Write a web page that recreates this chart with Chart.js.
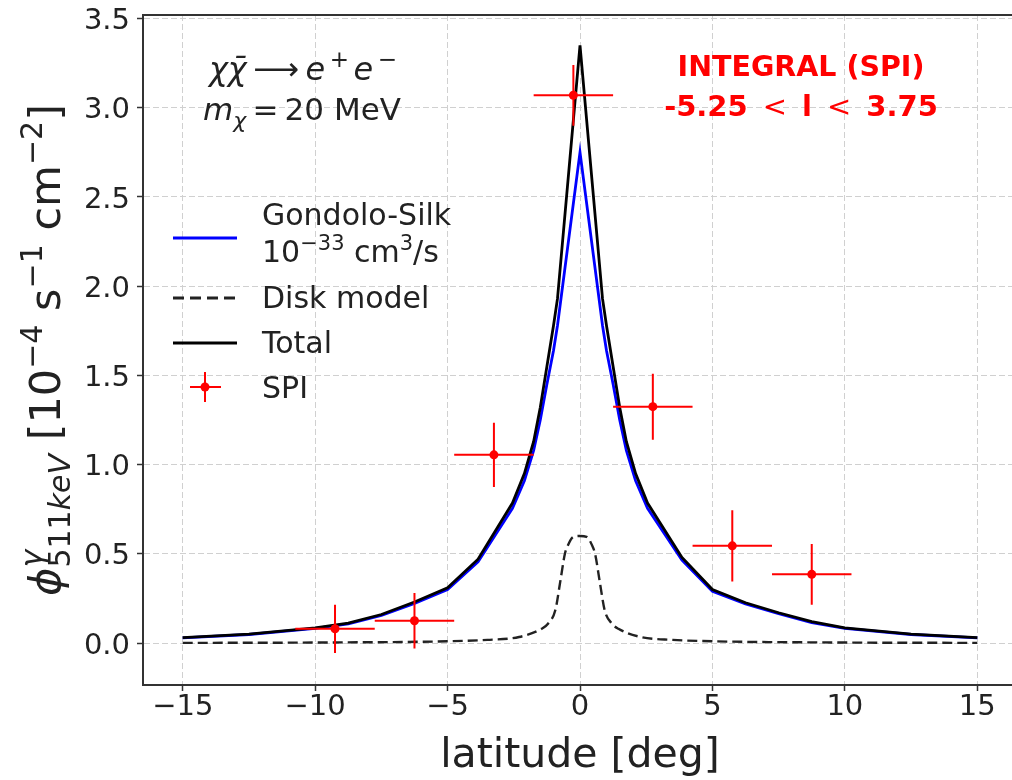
<!DOCTYPE html>
<html>
<head>
<meta charset="utf-8">
<script src="https://cdn.jsdelivr.net/npm/chart.js@4.4.0/dist/chart.umd.min.js"></script>
<style>
  html, body { margin: 0; padding: 0; background: #fff; overflow: hidden; }
  #wrap { width: 1030px; height: 780px; }
</style>
</head>
<body>
<div id="wrap"><canvas id="chart" width="1030" height="780"></canvas></div>
<script>
// model curves (latitude in deg, flux in 1e-4 ph/s/cm2)
const latGrid = [-15, -12.5, -10, -8.75, -7.5, -6.25, -5, -3.85, -2.55, -2.1, -1.75, -1.5, -1.25, -1, -0.85, 0,
                 0.85, 1, 1.25, 1.5, 1.75, 2.1, 2.55, 3.85, 5, 6.25, 7.5, 8.75, 10, 12.5, 15];
const gondoloSilk = [0.029, 0.048, 0.082, 0.108, 0.155, 0.222, 0.3, 0.455, 0.755, 0.91, 1.08, 1.25, 1.45, 1.64, 1.78, 2.75,
                     1.78, 1.64, 1.45, 1.25, 1.08, 0.91, 0.755, 0.465, 0.29, 0.22, 0.165, 0.115, 0.082, 0.048, 0.029];
const totalFlux = [0.03, 0.05, 0.085, 0.112, 0.16, 0.23, 0.31, 0.47, 0.785, 0.95, 1.13, 1.32, 1.55, 1.78, 1.93, 3.35,
                   1.93, 1.78, 1.55, 1.32, 1.13, 0.95, 0.785, 0.48, 0.30, 0.226, 0.17, 0.12, 0.085, 0.05, 0.03];
const diskLat = [-15, -10, -5, -3.5, -2.3, -1.45, -1.2, -0.93, -0.75, -0.57, -0.45, -0.25, 0,
                 0.25, 0.45, 0.57, 0.75, 0.93, 1.2, 1.45, 2.3, 3.5, 5, 10, 15];
const diskFlux = [0.001, 0.003, 0.01, 0.018, 0.034, 0.08, 0.11, 0.185, 0.34, 0.5, 0.55, 0.595, 0.6,
                  0.595, 0.55, 0.5, 0.34, 0.185, 0.11, 0.08, 0.034, 0.018, 0.01, 0.003, 0.001];

// SPI data
const spiLat = [-9.25, -6.25, -3.25, -0.25, 2.75, 5.75, 8.75];
const spiFlux = [0.08, 0.125, 1.055, 3.07, 1.325, 0.545, 0.385];
const spiLatErr = [1.5, 1.5, 1.5, 1.5, 1.5, 1.5, 1.5];
const spiFluxErr = [0.135, 0.155, 0.18, 0.17, 0.185, 0.2, 0.17];

const xTicks = [-15, -10, -5, 0, 5, 10, 15];
const xTickLabels = ['−15', '−10', '−5', '0', '5', '10', '15'];
const yTicks = [0, 0.5, 1, 1.5, 2, 2.5, 3, 3.5];
const yTickLabels = ['0.0', '0.5', '1.0', '1.5', '2.0', '2.5', '3.0', '3.5'];

const FONT = 'DejaVu Sans';
const TXT = '#222';

function pts(xs, ys) { return xs.map((v, i) => ({x: v, y: ys[i]})); }

function fontOf(p) {
  return (p.style || 'normal') + ' ' + (p.weight || 'normal') + ' ' + p.size + 'px "' + FONT + '"';
}

// draws a row of text pieces (for super/subscripts)
function richText(ctx, parts, x, y, align) {
  let w = 0;
  parts.forEach(p => {
    ctx.font = fontOf(p);
    p.w = ctx.measureText(p.t).width;
    if (p.adv !== false) w += p.w;
  });
  let cx = align === 'center' ? x - w / 2 : x;
  ctx.textAlign = 'left';
  ctx.textBaseline = 'alphabetic';
  parts.forEach(p => {
    ctx.font = fontOf(p);
    ctx.fillText(p.t, cx, y + (p.dy || 0));
    if (p.adv !== false) cx += p.w;
  });
}

const extras = {
  id: 'extras',
  afterDatasetsDraw(chart) {
    const {ctx, scales: {x, y}} = chart;
    ctx.save();
    ctx.strokeStyle = '#ff0000';
    ctx.lineWidth = 2;
    spiLat.forEach((lx, i) => {
      const px = x.getPixelForValue(lx), py = y.getPixelForValue(spiFlux[i]);
      ctx.beginPath();
      ctx.moveTo(x.getPixelForValue(lx - spiLatErr[i]), py);
      ctx.lineTo(x.getPixelForValue(lx + spiLatErr[i]), py);
      ctx.moveTo(px, y.getPixelForValue(spiFlux[i] - spiFluxErr[i]));
      ctx.lineTo(px, y.getPixelForValue(spiFlux[i] + spiFluxErr[i]));
      ctx.stroke();
    });
    ctx.restore();
  },
  afterDraw(chart) {
    const {ctx, chartArea: a} = chart;
    ctx.save();
    // top spine
    ctx.strokeStyle = '#333';
    ctx.lineWidth = 2;
    ctx.beginPath();
    ctx.moveTo(a.left, a.top);
    ctx.lineTo(a.right, a.top);
    ctx.stroke();

    // legend
    ctx.lineWidth = 3;
    ctx.strokeStyle = '#0000ff';
    ctx.beginPath(); ctx.moveTo(173, 238); ctx.lineTo(237, 238); ctx.stroke();
    ctx.strokeStyle = '#222';
    ctx.setLineDash([11, 6]);
    ctx.beginPath(); ctx.moveTo(173, 298); ctx.lineTo(237, 298); ctx.stroke();
    ctx.setLineDash([]);
    ctx.strokeStyle = '#000';
    ctx.beginPath(); ctx.moveTo(173, 343); ctx.lineTo(237, 343); ctx.stroke();
    ctx.strokeStyle = '#ff0000';
    ctx.lineWidth = 2;
    ctx.beginPath();
    ctx.moveTo(190, 387); ctx.lineTo(221, 387);
    ctx.moveTo(205, 372); ctx.lineTo(205, 402);
    ctx.stroke();
    ctx.fillStyle = '#ff0000';
    ctx.beginPath(); ctx.arc(205, 387, 4.5, 0, Math.PI * 2); ctx.fill();

    ctx.fillStyle = TXT;
    richText(ctx, [{t: 'Gondolo-Silk', size: 30}], 262, 225);
    richText(ctx, [{t: '10', size: 30}, {t: '−33', size: 21, dy: -12},
                   {t: ' cm', size: 30}, {t: '3', size: 21, dy: -12}, {t: '/s', size: 30}], 262, 262);
    richText(ctx, [{t: 'Disk model', size: 30}], 262, 308);
    richText(ctx, [{t: 'Total', size: 30}], 262, 353);
    richText(ctx, [{t: 'SPI', size: 30}], 262, 398);

    // process / mass annotation
    richText(ctx, [{t: 'χχ\u0304', size: 32, style: 'italic'}, {t: '\u2009⟶\u2009', size: 32},
                   {t: 'e', size: 32, style: 'italic'}, {t: '\u2009+\u2009', size: 23, dy: -13},
                   {t: 'e', size: 32, style: 'italic'}, {t: '\u2009−', size: 23, dy: -13}], 303, 80, 'center');
    richText(ctx, [{t: 'm', size: 31, style: 'italic'}, {t: 'χ', size: 22, style: 'italic', dy: 8},
                   {t: '\u2009=\u200920 MeV', size: 31}], 302, 120, 'center');

    // INTEGRAL label
    ctx.fillStyle = '#ff0000';
    richText(ctx, [{t: 'INTEGRAL (SPI)', size: 28.5, weight: 'bold'}], 801, 76, 'center');
    richText(ctx, [{t: '-5.25', size: 29, weight: 'bold'}, {t: '\u2009 < \u2009', size: 29},
                   {t: 'l', size: 29, weight: 'bold'}, {t: '\u2009 < \u2009', size: 29},
                   {t: '3.75', size: 29, weight: 'bold'}], 801, 116, 'center');

    // axis titles
    ctx.fillStyle = TXT;
    richText(ctx, [{t: 'latitude [deg]', size: 41}], (a.left + a.right) / 2, 767, 'center');
    ctx.translate(60, (a.top + a.bottom) / 2);
    ctx.rotate(-Math.PI / 2);
    richText(ctx, [
      {t: 'ϕ', size: 43, style: 'italic'},
      {t: 'γ', size: 30, style: 'italic', dy: -18, adv: false},
      {t: '511', size: 30, dy: 10},
      {t: 'keV', size: 30, style: 'italic', dy: 10},
      {t: ' [10', size: 43},
      {t: '−4', size: 30, dy: -18},
      {t: ' s', size: 43},
      {t: '−1', size: 30, dy: -18},
      {t: ' cm', size: 43},
      {t: '−2', size: 30, dy: -18},
      {t: ']', size: 43}
    ], 0, 0, 'center');
    ctx.restore();
  }
};

const gridOpts = {color: '#d0d0d0', lineWidth: 1, tickLength: 6, tickColor: '#333', tickWidth: 1.5};
const borderOpts = {color: '#333', width: 2, dash: [6, 3]};

new Chart(document.getElementById('chart'), {
  type: 'scatter',
  data: {
    datasets: [
      {label: 'SPI', data: pts(spiLat, spiFlux), pointRadius: 4.5, pointBackgroundColor: '#ff0000',
       pointBorderWidth: 0, showLine: false, order: 0},
      {label: 'Total', data: pts(latGrid, totalFlux), showLine: true, borderColor: '#000',
       borderWidth: 2.8, pointRadius: 0, order: 1},
      {label: 'Gondolo-Silk', data: pts(latGrid, gondoloSilk), showLine: true, borderColor: '#0000ff',
       borderWidth: 2.8, pointRadius: 0, order: 2},
      {label: 'Disk model', data: pts(diskLat, diskFlux), showLine: true, borderColor: '#222',
       borderWidth: 2.4, borderDash: [10, 5], pointRadius: 0, cubicInterpolationMode: 'monotone', order: 3}
    ]
  },
  options: {
    responsive: false,
    animation: false,
    layout: {padding: {top: 15, right: 13, left: 0, bottom: 0}},
    plugins: {legend: {display: false}, tooltip: {enabled: false}},
    scales: {
      x: {
        type: 'linear', min: -16.5, max: 16.5,
        afterFit: s => { s.height = 95; s.paddingLeft = 0; s.paddingRight = 0; },
        afterBuildTicks: s => { s.ticks = xTicks.map(v => ({value: v})); },
        ticks: {callback: (v, i) => xTickLabels[i], font: {family: FONT, size: 29}, color: TXT,
                padding: -1, maxRotation: 0, autoSkip: false},
        grid: gridOpts,
        border: borderOpts
      },
      y: {
        type: 'linear', min: -0.235, max: 3.52,
        afterFit: s => { s.width = 143; s.paddingTop = 0; s.paddingBottom = 0; },
        afterBuildTicks: s => { s.ticks = yTicks.map(v => ({value: v})); },
        ticks: {callback: (v, i) => yTickLabels[i], font: {family: FONT, size: 29}, color: TXT,
                padding: 7, labelOffset: 3, autoSkip: false},
        grid: gridOpts,
        border: borderOpts
      }
    }
  },
  plugins: [extras]
});
</script>
</body>
</html>
